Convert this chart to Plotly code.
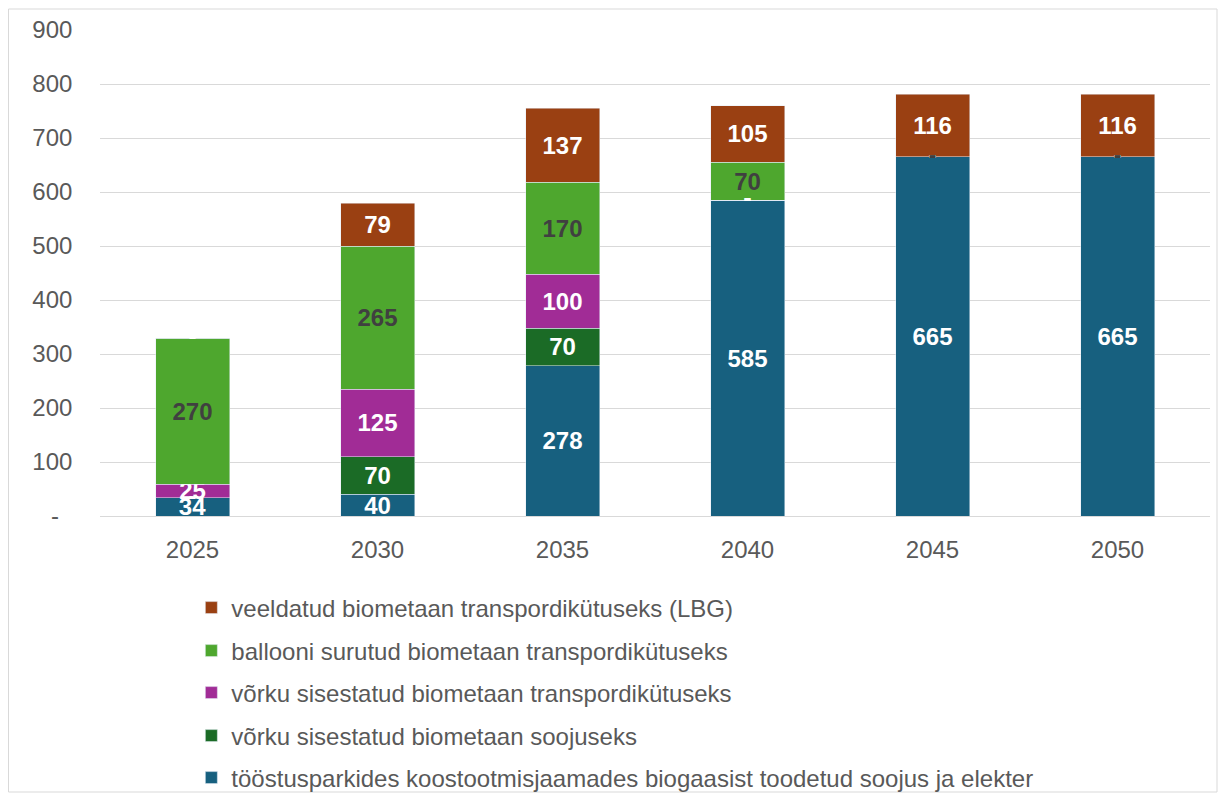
import plotly.graph_objects as go

years = ["2025", "2030", "2035", "2040", "2045", "2050"]
tooostus = [34, 40, 278, 585, 665, 665]
soojus = [0, 70, 70, 0, 0, 0]
vork_transport = [25, 125, 100, 0, 0, 0]
ballooni = [270, 265, 170, 70, 0, 0]
veeldatud = [0, 79, 137, 105, 116, 116]
y_ticks = [0, 100, 200, 300, 400, 500, 600, 700, 800, 900]

series = [
    ("tööstusparkides koostootmisjaamades biogaasist toodetud soojus ja elekter", tooostus, "#17607F", "white", "legend5"),
    ("võrku sisestatud biometaan soojuseks", soojus, "#1B6B26", "white", "legend4"),
    ("võrku sisestatud biometaan transpordikütuseks", vork_transport, "#A12C96", "white", "legend3"),
    ("ballooni surutud biometaan transpordikütuseks", ballooni, "#4EA72E", "#404040", "legend2"),
    ("veeldatud biometaan transpordikütuseks (LBG)", veeldatud, "#9A4012", "white", "legend"),
]

W, H = 1210, 785
FONT = "Liberation Sans, Arial"
fig = go.Figure()
cum = [0] * len(years)
for i, (name, vals, color, tcol, leg) in enumerate(series):
    fig.add_trace(go.Bar(
        x=years, y=vals, name=name, marker_color=color, legend=leg,
        text=["<b>%d</b>" % v if v else "" for v in vals], textposition="inside",
        insidetextanchor="middle", textangle=0,
        textfont=dict(family=FONT, size=24, color=tcol),
    ))
    zx, zy = [], []
    for j, v in enumerate(vals):
        if v == 0 and cum[j] > 0:
            zx.append(years[j]); zy.append(cum[j])
        cum[j] += v
    if zx:
        fig.add_trace(go.Scatter(
            x=zx, y=zy, mode="text", text=["<b>-</b>"] * len(zx), showlegend=False,
            textposition="middle center", hoverinfo="skip",
            textfont=dict(family=FONT, size=24, color=tcol),
        ))

legend_y = {"legend": -0.1893, "legend2": -0.2778, "legend3": -0.3642,
            "legend4": -0.4527, "legend5": -0.5391}
legend_layout = {}
for k, yv in legend_y.items():
    legend_layout[k] = dict(x=0.0823, xanchor="left", y=yv, yanchor="middle",
                            bgcolor="rgba(0,0,0,0)",
                            font=dict(family=FONT, size=24, color="#595959"))

fig.update_layout(
    barmode="stack", bargap=0.6,
    width=W, height=H,
    paper_bgcolor="white", plot_bgcolor="white",
    margin=dict(l=92, r=8, t=22, b=277, autoexpand=False),
    font=dict(family=FONT, color="#595959", size=24),
    uniformtext=dict(mode="show", minsize=24),
    yaxis=dict(range=[0, 900], tickvals=y_ticks,
               ticktext=["-" + "\u00a0" * 6] + [str(v) + "\u00a0" * 4 for v in y_ticks[1:]],
               gridcolor="#D9D9D9", zeroline=False, showline=False, ticks=""),
    xaxis=dict(type="category", showline=True, linecolor="#D9D9D9",
               ticks="outside", ticklen=12, tickcolor="rgba(0,0,0,0)"),
    showlegend=True,
    shapes=[dict(type="rect", xref="paper", yref="paper",
                 x0=(0.5 - 92) / 1110, x1=(1209 - 92) / 1110,
                 y0=(508 - 784) / 486, y1=1 + 21 / 486,
                 line=dict(color="#D9D9D9", width=1))],
    **legend_layout,
)
fig.write_html("out.html")
